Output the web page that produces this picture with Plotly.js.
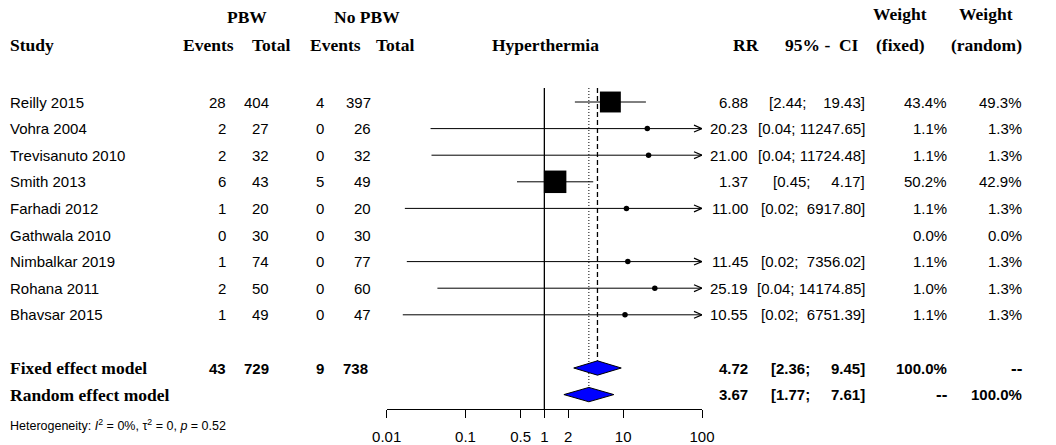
<!DOCTYPE html>
<html>
<head>
<meta charset="utf-8">
<script src="https://cdn.plot.ly/plotly-3.0.1.min.js"></script>
<style>html,body{margin:0;padding:0;background:#fff;}#chart{width:1056px;height:445px;}</style>
</head>
<body>
<div id="chart"></div>
<script>
// ---------------- data ----------------
const studies = ['Reilly 2015','Vohra 2004','Trevisanuto 2010','Smith 2013','Farhadi 2012','Gathwala 2010','Nimbalkar 2019','Rohana 2011','Bhavsar 2015'];
const eventsPBW = [28, 2, 2, 6, 1, 0, 1, 2, 1];
const totalPBW = [404, 27, 32, 43, 20, 30, 74, 50, 49];
const eventsNoPBW = [4, 0, 0, 5, 0, 0, 0, 0, 0];
const totalNoPBW = [397, 26, 32, 49, 20, 30, 77, 60, 47];
const rr = [6.88, 20.23, 21.00, 1.37, 11.00, null, 11.45, 25.19, 10.55];
const ciLower = [2.44, 0.036, 0.037, 0.45, 0.017, null, 0.018, 0.044, 0.016];
const ciUpper = [19.43, 11247.65, 11724.48, 4.17, 6917.80, null, 7356.02, 14174.85, 6751.39];
const weightFixed = [43.4, 1.1, 1.1, 50.2, 1.1, 0.0, 1.1, 1.0, 1.1];
const weightRandom = [49.3, 1.3, 1.3, 42.9, 1.3, 0.0, 1.3, 1.3, 1.3];

const fixedModel = {label: 'Fixed effect model', rr: 4.72, lower: 2.36, upper: 9.45, evPBW: 43, totPBW: 729, evNo: 9, totNo: 738, wFixed: '100.0%', wRandom: '--'};
const randomModel = {label: 'Random effect model', rr: 3.67, lower: 1.77, upper: 7.61, wFixed: '--', wRandom: '100.0%'};
const heterogeneity = 'Heterogeneity: <i>I</i><sup>2</sup> = 0%, \u03c4<sup>2</sup> = 0, <i>p</i> = 0.52';

const tickVals = [0.01, 0.1, 0.5, 1, 2, 10, 100];
const tickText = ['0.01', '0.1', '0.5', '1', '2', '10', '100'];

// ---------------- layout helpers ----------------
const W = 1056, H = 445;
const axisLeftPx = 386.7, axisRightPx = 702, axisLinePx = 409;
const rowTopPx = 102, rowStep = 26.6;
const pxToRow = p => 1 + (p - rowTopPx) / rowStep;
const yMin = pxToRow(0), yMax = pxToRow(axisLinePx);
const xMin = tickVals[0], xMax = tickVals[tickVals.length - 1];
const pxPerDecade = (axisRightPx - axisLeftPx) / (Math.log10(xMax) - Math.log10(xMin));

const NB = '\u00A0';
const SANS = 'Liberation Sans, Arial, sans-serif';
const SERIF = 'Liberation Serif, Times New Roman, serif';
const fsBody = 15, fsHead = 17.5;

const upperWidth = Math.max(...ciUpper.filter(v => v != null).map(v => v.toFixed(2).length));
const lowerWidth = Math.max(...ciLower.filter(v => v != null).map(v => v.toFixed(2).length));
function ciText(lo, up) {
  const l = lo.toFixed(2).padStart(lowerWidth, NB);
  const u = up.toFixed(2).padStart(upperWidth, NB);
  return '[' + l + ';' + NB + u + ']';
}

const rows = studies.map((s, i) => i + 1);
const fixedRow = studies.length + 2, randomRow = studies.length + 3;

const annotations = [];
function txt(xPx, row, text, anchor, font, yref) {
  annotations.push({
    xref: 'paper', yref: yref || 'y', x: xPx / W, y: row, text: text,
    xanchor: anchor, yanchor: 'middle', showarrow: false,
    font: Object.assign({color: '#000'}, font)
  });
}
const body = {family: SANS, size: fsBody};
const bodyB = {family: SANS, size: fsBody, weight: 'bold'};
const head = {family: SERIF, size: fsHead, weight: 'bold'};

// headers
const h1 = pxToRow(17), h2 = pxToRow(45);
txt(8, h2, 'Study', 'left', head);
txt(247, h1, 'PBW', 'center', head);
txt(367, h1, 'No PBW', 'center', head);
txt(208, h2, 'Events', 'center', head);
txt(271, h2, 'Total', 'center', head);
txt(335, h2, 'Events', 'center', head);
txt(395, h2, 'Total', 'center', head);
txt(545, h2, 'Hyperthermia', 'center', head);
txt(746, h2, 'RR', 'center', head);
txt(822, h2, '95% -' + NB + NB + 'CI', 'center', head);
txt(900, pxToRow(14), 'Weight', 'center', head);
txt(900, h2, '(fixed)', 'center', head);
txt(986, pxToRow(14), 'Weight', 'center', head);
txt(986, h2, '(random)', 'center', head);

// study rows
const colEvPBW = 228, colTotPBW = 271, colEvNo = 326, colTotNo = 373;
const colRR = 750, colCI = 867, colWF = 949, colWR = 1024;
studies.forEach((s, i) => {
  const r = rows[i];
  txt(8, r, s, 'left', body);
  txt(colEvPBW, r, String(eventsPBW[i]), 'right', body);
  txt(colTotPBW, r, String(totalPBW[i]), 'right', body);
  txt(colEvNo, r, String(eventsNoPBW[i]), 'right', body);
  txt(colTotNo, r, String(totalNoPBW[i]), 'right', body);
  if (rr[i] != null) {
    txt(colRR, r, rr[i].toFixed(2), 'right', body);
    txt(colCI, r, ciText(ciLower[i], ciUpper[i]), 'right', body);
  }
  txt(colWF, r, weightFixed[i].toFixed(1) + '%', 'right', body);
  txt(colWR, r, weightRandom[i].toFixed(1) + '%', 'right', body);
});

// summary rows
txt(8, fixedRow, fixedModel.label, 'left', head);
txt(colEvPBW, fixedRow, String(fixedModel.evPBW), 'right', bodyB);
txt(colTotPBW, fixedRow, String(fixedModel.totPBW), 'right', bodyB);
txt(colEvNo, fixedRow, String(fixedModel.evNo), 'right', bodyB);
txt(colTotNo - 3, fixedRow, String(fixedModel.totNo), 'right', bodyB);
[[fixedModel, fixedRow], [randomModel, randomRow]].forEach(([m, r]) => {
  if (m === randomModel) txt(8, r, m.label, 'left', head);
  txt(colRR, r, m.rr.toFixed(2), 'right', bodyB);
  txt(colCI, r, ciText(m.lower, m.upper), 'right', bodyB);
  txt(colWF, r, m.wFixed, 'right', Object.assign({}, bodyB, m.wFixed === '--' ? {size: 17} : {}));
  txt(colWR, r, m.wRandom, 'right', Object.assign({}, bodyB, m.wRandom === '--' ? {size: 17} : {}));
});

annotations.push({
  xref: 'paper', yref: 'paper', x: 8 / W, y: 1 - 425 / H, text: heterogeneity,
  xanchor: 'left', yanchor: 'middle', showarrow: false,
  font: {family: SANS, size: 12.5, color: '#000'}
});

// ---------------- traces ----------------
const traces = [];
// CI lines
const ciX = [], ciY = [];
const chevX = [], chevY = [];
const chevBack = xMax / Math.pow(10, 8 / pxPerDecade);
const chevH = 0.13;
studies.forEach((s, i) => {
  if (rr[i] == null) return;
  const lo = Math.max(ciLower[i], xMin), up = Math.min(ciUpper[i], xMax);
  ciX.push(lo, up, null); ciY.push(rows[i], rows[i], null);
  if (ciUpper[i] > xMax) {
    chevX.push(chevBack, xMax, chevBack, null);
    chevY.push(rows[i] - chevH, rows[i], rows[i] + chevH, null);
  }
});
traces.push({type: 'scatter', mode: 'lines', x: ciX, y: ciY, line: {color: '#000', width: 1}, hoverinfo: 'skip'});
traces.push({type: 'scatter', mode: 'lines', x: chevX, y: chevY, line: {color: '#000', width: 1.2}, hoverinfo: 'skip'});

// reference lines
traces.push({type: 'scatter', mode: 'lines', x: [1, 1], y: [pxToRow(88), yMax], line: {color: '#000', width: 1.3}, hoverinfo: 'skip'});
const dHalf = 0.27;
traces.push({type: 'scatter', mode: 'lines', x: [fixedModel.rr, fixedModel.rr], y: [pxToRow(88), fixedRow - dHalf], line: {color: '#000', width: 1.3, dash: '5px,3px'}, hoverinfo: 'skip'});
traces.push({type: 'scatter', mode: 'lines', x: [randomModel.rr, randomModel.rr], y: [pxToRow(88), randomRow - dHalf], line: {color: '#000', width: 1, dash: '1px,2px'}, hoverinfo: 'skip'});

// point estimates
const maxW = Math.max(...weightFixed);
const px = [], py = [], ps = [], psym = [];
studies.forEach((s, i) => {
  if (rr[i] == null) return;
  const sz = Math.sqrt(weightFixed[i] / maxW) * 22.5;
  px.push(rr[i]); py.push(rows[i]);
  ps.push(Math.max(sz, 5.5)); psym.push(sz < 8 ? 'circle' : 'square');
});
traces.push({type: 'scatter', mode: 'markers', x: px, y: py,
  marker: {symbol: psym, size: ps, color: '#000', opacity: 1, line: {width: 0}}, cliponaxis: false, hoverinfo: 'skip'});

// diamonds
[[fixedModel, fixedRow], [randomModel, randomRow]].forEach(([m, r]) => {
  traces.push({type: 'scatter', mode: 'lines', fill: 'toself', fillcolor: '#0000FF',
    x: [m.lower, m.rr, m.upper, m.rr, m.lower], y: [r, r - dHalf, r, r + dHalf, r],
    line: {color: '#000', width: 1}, hoverinfo: 'skip'});
});

const layout = {
  width: W, height: H,
  margin: {l: 0, r: 0, t: 0, b: 0, pad: 0},
  paper_bgcolor: '#fff', plot_bgcolor: '#fff',
  showlegend: false,
  xaxis: {
    type: 'log', range: [Math.log10(xMin), Math.log10(xMax)],
    domain: [axisLeftPx / W, axisRightPx / W], anchor: 'y',
    showline: true, linecolor: '#000', linewidth: 1,
    ticks: 'outside', ticklen: 8, tickcolor: '#000', tickwidth: 1,
    tickvals: tickVals, ticktext: tickText, ticklabelstandoff: 6,
    tickfont: {family: SANS, size: 15, color: '#000'},
    showgrid: false, zeroline: false, fixedrange: true
  },
  yaxis: {
    domain: [1 - axisLinePx / H, 1], range: [yMax, yMin],
    visible: false, showgrid: false, zeroline: false, fixedrange: true
  },
  annotations: annotations
};

Plotly.newPlot('chart', traces, layout, {displayModeBar: false, staticPlot: true});
</script>
</body>
</html>
